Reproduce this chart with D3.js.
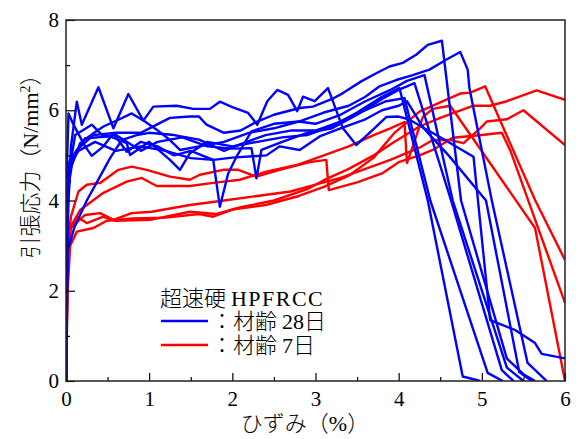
<!DOCTYPE html>
<html>
<head>
<meta charset="utf-8">
<script src="https://cdn.jsdelivr.net/npm/d3@7"></script>
<style>
  body { margin: 0; background: #fff; }
  .tick text { font-family: "Liberation Serif", serif; font-size: 21px; fill: #000; }
  .jp { font-family: "Noto Sans CJK JP", sans-serif; font-weight: 300; }
  .en { font-family: "Liberation Serif", serif; }
</style>
</head>
<body>
<svg width="576" height="439"></svg>
<script>
// ---------------- DATA (strain %, stress N/mm2) ----------------
var xTicks = [0, 1, 2, 3, 4, 5, 6];
var yTicks = [0, 2, 4, 6, 8];

// 28-day specimens (blue)
var b28_1 = [[0,0],[0.01,3.5],[0.03,4.83],[0.13,5.12],[0.33,5.45],[0.6,5.5],[0.9,5.5],[1.09,5.68],[1.25,5.83],[1.49,5.86],[1.6,5.86],[1.69,5.68],[1.9,5.5],[2.1,5.55],[2.3,5.75],[2.5,5.9],[2.81,6.05],[2.97,6.08],[3.2,6.25],[3.33,6.38],[3.55,6.64],[3.73,6.82],[3.89,6.97],[4.05,7.05],[4.21,7.23],[4.35,7.45],[4.52,7.54],[4.75,4.0],[5.3,0.5],[5.5,0.15],[5.64,0]];
var b28_2 = [[0,0],[0.01,2.5],[0.03,4.0],[0.05,4.68],[0.17,5.27],[0.33,5.49],[0.45,5.64],[0.63,5.79],[0.79,5.93],[0.95,5.75],[1.09,5.57],[1.25,5.34],[1.37,5.12],[1.6,5.2],[1.9,5.3],[2.2,5.5],[2.5,5.6],[2.8,5.75],[3.1,5.95],[3.4,6.1],[3.6,6.3],[3.77,6.53],[3.97,6.67],[4.17,6.78],[4.37,6.9],[4.57,7.12],[4.74,7.29],[4.83,6.9],[4.85,6.5],[5.12,4.0],[5.55,0.4],[5.78,0]];
var b28_3 = [[0,0],[0.015,5.0],[0.03,5.93],[0.09,5.68],[0.23,5.2],[0.31,4.99],[0.45,5.2],[0.57,5.49],[0.73,5.08],[0.9,5.3],[1.1,5.2],[1.3,5.0],[1.5,5.1],[1.77,4.9],[1.85,3.86],[1.95,4.6],[2.05,4.97],[2.23,5.53],[2.5,5.7],[2.8,5.75],[3.0,5.7],[3.3,5.9],[3.6,6.2],[3.9,6.45],[4.1,6.65],[4.31,6.78],[4.65,4.0],[5.3,0.3],[5.5,0]];
var b28_4 = [[0,0],[0.02,4.0],[0.06,4.9],[0.11,5.45],[0.31,5.68],[0.45,5.42],[0.6,5.45],[0.73,5.3],[0.9,5.1],[1.1,5.3],[1.4,5.4],[1.7,5.2],[2.0,5.15],[2.23,5.16],[2.29,4.49],[2.35,5.12],[2.6,5.3],[2.9,5.5],[3.2,5.6],[3.5,5.9],[3.8,6.25],[4.0,6.45],[4.19,6.6],[4.63,4.0],[5.24,0.24],[5.38,0]];
var b28_5 = [[0,0],[0.02,4.2],[0.08,4.9],[0.17,5.2],[0.23,5.38],[0.53,5.42],[0.73,5.27],[0.77,5.01],[1.0,5.3],[1.25,4.9],[1.37,4.68],[1.49,5.05],[1.7,5.3],[2.0,5.2],[2.3,5.3],[2.6,5.4],[2.9,5.45],[3.2,5.65],[3.5,5.95],[3.8,6.3],[4.01,6.49],[4.35,4.0],[4.77,0.1],[4.98,0]];
var b28_6 = [[0,0],[0.02,2.9],[0.1,3.4],[0.25,4.0],[0.4,4.5],[0.53,4.94],[0.67,5.34],[0.85,5.45],[1.0,5.5],[1.3,5.45],[1.6,5.35],[1.9,5.1],[2.1,5.25],[2.4,5.45],[2.7,5.55],[3.0,5.55],[3.3,5.75],[3.6,6.0],[3.85,6.2],[4.07,6.27],[4.38,4.0],[5.07,0.18],[5.25,0]];
var b28_7 = [[0,0],[0.02,3.8],[0.06,5.2],[0.13,6.19],[0.19,5.68],[0.39,6.51],[0.57,5.6],[0.75,6.36],[0.93,5.77],[1.05,6.08],[1.33,6.1],[1.53,6.03],[1.73,6.03],[1.85,6.19],[2.0,6.07],[2.19,5.94],[2.3,5.68],[2.42,6.2],[2.54,6.45],[2.67,6.34],[2.78,5.98],[2.85,6.3],[2.99,6.2],[3.15,6.49],[3.33,5.6],[3.49,5.23],[3.65,5.5],[3.85,5.85],[4.0,5.86],[4.12,5.8],[4.5,5.4],[4.9,4.97],[5.1,1.35],[5.4,1.13],[5.64,0.84],[5.72,0.6],[6.0,0.5]];
var b28_8 = [[0,0],[0.02,4.0],[0.05,4.8],[0.15,5.1],[0.35,5.3],[0.6,5.1],[0.9,5.2],[1.2,5.1],[1.5,4.94],[1.77,4.9],[2.0,4.95],[2.41,5.0],[2.57,5.2],[2.81,5.12],[3.05,5.42],[3.3,5.6],[3.6,5.8],[3.8,6.0],[4.0,6.1],[4.1,6.2],[4.3,5.6],[4.6,5.0],[5.05,4.0],[5.45,0.2],[5.6,0]];

// 7-day specimens (red)
var r7_1 = [[0,0],[0.01,2.0],[0.03,3.2],[0.06,3.65],[0.15,4.2],[0.25,4.35],[0.41,4.39],[0.63,4.68],[0.79,4.75],[0.97,4.68],[1.25,4.53],[1.49,4.46],[1.61,4.57],[1.89,4.68],[2.07,4.68],[2.29,4.53],[2.57,4.68],[2.93,4.85],[3.13,4.9],[3.16,4.23],[3.5,4.4],[3.8,4.6],[4.0,4.85],[4.25,5.0],[4.41,5.12],[4.65,5.39],[5.0,5.45],[5.24,5.5],[5.34,5.12],[6,1.73]];
var r7_2 = [[0,0],[0.02,2.5],[0.05,3.4],[0.17,3.79],[0.45,4.17],[0.73,4.42],[0.91,4.5],[1.09,4.32],[1.49,4.32],[1.77,4.39],[2.09,4.46],[2.41,4.64],[2.8,4.8],[3.1,5.0],[3.4,5.2],[3.7,5.45],[3.9,5.6],[4.07,5.74],[4.1,4.83],[4.29,5.85],[4.41,6.03],[4.62,6.1],[5.64,3.39],[6,0]];
var r7_3 = [[0,0],[0.01,2.2],[0.04,3.3],[0.13,3.64],[0.25,3.5],[0.45,3.64],[0.59,3.55],[1.01,3.57],[1.49,3.75],[1.8,3.7],[2.1,3.85],[2.5,4.0],[2.9,4.25],[3.1,4.45],[3.4,4.7],[3.7,5.0],[3.95,5.3],[4.25,5.64],[4.5,5.83],[4.9,6.1],[5.1,6.1],[5.3,6.2],[5.66,6.44],[6,6.23]];
var r7_4 = [[0,0],[0.02,2.8],[0.06,3.4],[0.23,3.68],[0.41,3.72],[0.57,3.57],[0.79,3.72],[1.03,3.75],[1.49,3.9],[1.9,4.0],[2.3,4.1],[2.7,4.2],[3.0,4.35],[3.3,4.5],[3.6,4.7],[3.9,4.9],[4.25,5.17],[4.41,5.34],[4.62,5.34],[4.78,5.27],[4.98,5.6],[5.06,5.75],[5.3,5.8],[5.5,6.0],[6,5.23]];
var r7_5 = [[0,0],[0.02,2.0],[0.05,3.0],[0.13,3.31],[0.33,3.39],[0.49,3.55],[0.8,3.6],[1.2,3.62],[1.6,3.7],[1.77,3.64],[2.0,3.8],[2.4,3.9],[2.8,4.1],[3.1,4.3],[3.4,4.55],[3.7,4.95],[3.95,5.5],[4.25,5.97],[4.52,6.19],[4.74,6.37],[4.86,6.39],[5.04,6.53],[5.64,4.01],[6,2.68]];

var blueSeries = [b28_1, b28_2, b28_3, b28_4, b28_5, b28_6, b28_7, b28_8];
var redSeries = [r7_1, r7_2, r7_3, r7_4, r7_5];

// ---------------- SETUP ----------------
var svg = d3.select("svg");
var plotL = 66, plotR = 565, plotT = 20, plotB = 381;

var x = d3.scaleLinear().domain([0, 6]).range([plotL, plotR]);
var y = d3.scaleLinear().domain([0, 8]).range([plotB, plotT]);

var line = d3.line()
  .x(function(d) { return x(d[0]); })
  .y(function(d) { return y(d[1]); });

// clip so nothing spills over the frame
svg.append("clipPath").attr("id", "plot")
  .append("rect")
  .attr("x", plotL).attr("y", plotT)
  .attr("width", plotR - plotL).attr("height", plotB - plotT);

var g = svg.append("g").attr("clip-path", "url(#plot)");

g.selectAll("path.red")
  .data(redSeries)
  .enter().append("path")
  .attr("class", "red")
  .attr("d", line)
  .attr("fill", "none")
  .attr("stroke", "#ff0000")
  .attr("stroke-width", 2.4)
  .attr("stroke-linejoin", "round");

g.selectAll("path.blue")
  .data(blueSeries)
  .enter().append("path")
  .attr("class", "blue")
  .attr("d", line)
  .attr("fill", "none")
  .attr("stroke", "#0000ff")
  .attr("stroke-width", 2.4)
  .attr("stroke-linejoin", "round");

// ---------------- AXES ----------------
var xAxis = svg.append("g")
  .attr("transform", "translate(0," + plotB + ")")
  .call(d3.axisBottom(x).tickValues(xTicks).tickSize(-8).tickPadding(10).tickFormat(d3.format("d")));

var xMinor = svg.append("g")
  .attr("transform", "translate(0," + plotB + ")")
  .call(d3.axisBottom(x).tickValues(d3.range(0.5, 6, 1)).tickSize(-4).tickFormat(""));

var yAxis = svg.append("g")
  .attr("transform", "translate(" + plotL + ",0)")
  .call(d3.axisLeft(y).tickValues(yTicks).tickSize(-9).tickPadding(7).tickFormat(d3.format("d")));

var yMinor = svg.append("g")
  .attr("transform", "translate(" + plotL + ",0)")
  .call(d3.axisLeft(y).tickValues([1, 3, 5, 7]).tickSize(-4).tickFormat(""));

[xAxis, xMinor, yAxis, yMinor].forEach(function(a) {
  a.select(".domain").remove();
  a.selectAll(".tick line").attr("stroke", "#000").attr("stroke-width", 1.2);
});

// frame
svg.append("rect")
  .attr("x", plotL).attr("y", plotT)
  .attr("width", plotR - plotL).attr("height", plotB - plotT)
  .attr("fill", "none")
  .attr("stroke", "#222")
  .attr("stroke-width", 1.5);

// ---------------- LABELS ----------------
var yLabel = svg.append("text")
  .attr("transform", "translate(38,161) rotate(-90)")
  .attr("text-anchor", "middle")
  .style("font-size", "22px");
yLabel.append("tspan").attr("class", "jp").text("引張応力（");
yLabel.append("tspan").attr("class", "en").text("N/mm");
yLabel.append("tspan").attr("class", "en").attr("dy", -8).style("font-size", "14px").text("2");
yLabel.append("tspan").attr("class", "jp").attr("dy", 8).text("）");

var xLabel = svg.append("text")
  .attr("x", 305).attr("y", 431)
  .attr("text-anchor", "middle")
  .style("font-size", "22px");
xLabel.append("tspan").attr("class", "jp").text("ひずみ（");
xLabel.append("tspan").attr("class", "en").text("%");
xLabel.append("tspan").attr("class", "jp").text("）");

// ---------------- LEGEND ----------------
var legend = svg.append("g");
var title = legend.append("text").attr("x", 160).attr("y", 306).style("font-size", "22px");
title.append("tspan").attr("class", "jp").text("超速硬 ");
title.append("tspan").attr("class", "en").style("letter-spacing", "1.5px").text("HPFRCC");

var legendItems = [
  { color: "#0000ff", age: "28" },
  { color: "#ff0000", age: "7" }
];

legendItems.forEach(function(item, i) {
  var ly = 321 + i * 24;
  legend.append("line")
    .attr("x1", 161).attr("x2", 208)
    .attr("y1", ly).attr("y2", ly)
    .attr("stroke", item.color)
    .attr("stroke-width", 2.4);
  var t = legend.append("text").attr("x", 211).attr("y", ly + 8).style("font-size", "22px");
  t.append("tspan").attr("class", "jp").text("：材齢 ");
  t.append("tspan").attr("class", "en").text(item.age);
  t.append("tspan").attr("class", "jp").text("日");
});
</script>
</body>
</html>
